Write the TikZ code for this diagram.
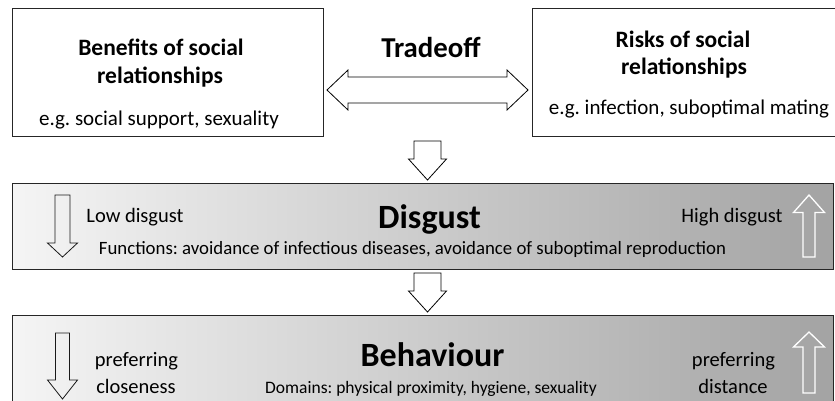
\documentclass[tikz,border=0pt]{standalone}
\usepackage{fontspec}
\setmainfont{Carlito}
\usetikzlibrary{calc}
\frenchspacing
\tikzset{
  box/.style={draw=black!85, line width=0.9pt, inner sep=0pt, fill=white},
  gbox/.style={draw=black!85, line width=1pt, inner sep=0pt, left color=black!4, right color=black!36},
  conn/.style={draw=black, line width=0.8pt, fill=white, line join=miter},
  darrow/.style={draw=black!90, line width=0.8pt},
  warrow/.style={draw=white, line width=1.3pt},
  ttl/.style={anchor=base, font=\fontsize{23.5}{28}\selectfont\bfseries},
  sub/.style={anchor=base, font=\fontsize{21}{25}\selectfont},
  big/.style={anchor=base, font=\fontsize{34}{40}\selectfont\bfseries},
  lbl/.style={anchor=base, font=\fontsize{20.5}{24}\selectfont},
  fn/.style={anchor=base, font=\fontsize{18.8}{22}\selectfont},
  fn2/.style={anchor=base, font=\fontsize{17.5}{22}\selectfont},
}
\newcommand{\vblock}[7]{\draw[#1] (#2-#6,#3) -- (#2+#6,#3) -- (#2+#6,#4) -- (#2+#7,#4) -- (#2,#5) -- (#2-#7,#4) -- (#2-#6,#4) -- cycle;}
\begin{document}
\frenchspacing
\begin{tikzpicture}[x=1pt,y=-1pt]
\useasboundingbox (0,0) rectangle (835,400);
% top boxes
\node[box, minimum width=311pt, minimum height=128pt] (benefits) at (167.5,72) {};
\node[box, minimum width=304pt, minimum height=128pt] (risks) at (684,72) {};
\node[ttl] (b1) at (161,55) {Benefits of social};
\node[ttl] (b2) at (160,83) {relationships};
\node[sub] (b3) at (159,125) {e.g. social support, sexuality};
\node[ttl] (r1) at (683,47) {Risks of social};
\node[ttl] (r2) at (684,74) {relationships};
\node[sub] (r3) at (689,114) {e.g. infection, suboptimal mating};
\node[anchor=base, font=\fontsize{28.8}{34}\selectfont\bfseries] (trade) at (431,57) {Tradeoff};
% tradeoff double arrow
\draw[conn] (327,90) -- (348,70) -- (348,77) -- (507,77) -- (507,70) -- (528,90) -- (507,110) -- (507,103) -- (348,103) -- (348,110) -- cycle;
% disgust box
\node[gbox, minimum width=821pt, minimum height=86pt] (disgust) at (422.5,226) {};
\node[big] (dt) at (429.5,228) {Disgust};
\node[lbl] (low) at (135,222) {Low disgust};
\node[lbl] (high) at (732,222) {High disgust};
\node[fn] (func) at (412.5,254) {Functions: avoidance of infectious diseases, avoidance of suboptimal reproduction};
% behaviour box
\node[gbox, minimum width=821pt, minimum height=100pt] (behav) at (422.5,365) {};
\node[big] (bt) at (432.5,366) {Behaviour};
\node[lbl] (pc1) at (136.5,366) {preferring};
\node[lbl] (pc2) at (136,393) {closeness};
\node[lbl] (pd1) at (733.5,366) {preferring};
\node[lbl] (pd2) at (733,393) {distance};
\node[fn2] (dom) at (431,393) {Domains: physical proximity, hygiene, sexuality};
% connecting block arrows
\vblock{conn}{427.5}{141}{159}{180}{13.5}{19}
\vblock{conn}{427.5}{273}{291}{312}{13.5}{19}
% inner arrows
\vblock{darrow}{62.5}{195}{243}{257}{7.5}{15}
\vblock{warrow}{809}{257}{212.5}{195}{6}{15.5}
\vblock{darrow}{62.5}{333}{380}{399}{7}{15}
\vblock{warrow}{809}{393}{347}{332}{6}{15.5}
\end{tikzpicture}
\end{document}
